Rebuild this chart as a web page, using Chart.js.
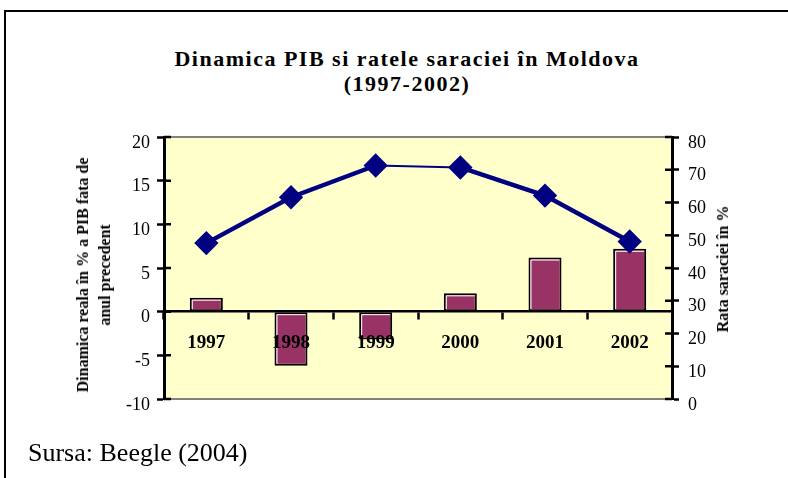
<!DOCTYPE html>
<html>
<head>
<meta charset="utf-8">
<script src="https://cdn.jsdelivr.net/npm/chart.js@4"></script>
<style>
  body { margin: 0; background: #fff; font-family: "Liberation Serif", "Times New Roman", serif; }
  #wrap { position: relative; width: 788px; height: 478px; overflow: hidden; }
  #frame { position: absolute; left: 4px; top: 10px; width: 900px; height: 600px; border-left: 2px solid #000; border-top: 2px solid #000; }
  #title { position: absolute; left: 0; width: 814px; top: 46px; text-align: center; font-weight: bold; font-size: 22px; letter-spacing: 1.5px; line-height: 25px; color: #000; }
  .axisTitle { position: absolute; transform: translate(-50%, -50%) rotate(-90deg); white-space: nowrap; text-align: center; font-weight: bold; font-size: 16px; line-height: 22px; color: #000; }
  #leftTitle { left: 94px; top: 275px; }
  #rightTitle { left: 723px; top: 269px; }
  #source { position: absolute; left: 28px; top: 440px; font-size: 26px; line-height: 26px; color: #000; }
  canvas { position: absolute; left: 0; top: 0; }
</style>
</head>
<body>
<div id="wrap">
  <div id="frame"></div>
  <div id="title">Dinamica PIB si ratele saraciei în Moldova<br>(1997-2002)</div>
  <canvas id="chart" width="788" height="478"></canvas>
  <div id="leftTitle" class="axisTitle">Dinamica reala în % a PIB fata de<br>anul precedent</div>
  <div id="rightTitle" class="axisTitle">Rata saraciei în %</div>
  <div id="source">Sursa: Beegle (2004)</div>
</div>
<script>
// ani
const years = ['1997', '1998', '1999', '2000', '2001', '2002'];
// dinamica reala a PIB, % fata de anul precedent (axa stanga)
const gdpGrowth = [1.6, -6.2, -3.2, 2.1, 6.2, 7.2];
// rata saraciei, % (axa dreapta)
const povertyRate = [47.6, 61.6, 71.3, 70.7, 62.1, 48.1];
// diviziuni axe
const leftTicks = { min: -10, max: 20, step: 5 };
const rightTicks = { min: 0, max: 80, step: 10 };

const serif = '"Liberation Serif", "Times New Roman", serif';

// fundal galben + chenar gri pentru zona graficului
const plotBackground = {
    id: 'plotBackground',
    beforeDraw(chart) {
        const { ctx, chartArea: a } = chart;
        ctx.save();
        ctx.fillStyle = '#FFFFCC';
        ctx.fillRect(a.left, a.top, a.right - a.left, a.bottom - a.top);
        ctx.strokeStyle = '#808080';
        ctx.lineWidth = 2;
        ctx.beginPath();
        ctx.moveTo(a.left, a.top); ctx.lineTo(a.right, a.top);
        ctx.moveTo(a.left, a.bottom); ctx.lineTo(a.right, a.bottom);
        ctx.stroke();
        ctx.restore();
    }
};

// linie alba in interiorul barelor (sus si in stanga), ca la Excel
const barHighlight = {
    id: 'barHighlight',
    afterDatasetDraw(chart, args) {
        if (args.meta.type !== 'bar') return;
        const ctx = chart.ctx;
        ctx.save();
        ctx.strokeStyle = '#fff';
        ctx.lineWidth = 1;
        ctx.beginPath();
        args.meta.data.forEach(bar => {
            const { x, y, base, width } = bar.getProps(['x', 'y', 'base', 'width'], true);
            const top = Math.min(y, base) + 2.5;
            const bottom = Math.max(y, base) - 2;
            const left = x - width / 2 + 2.5;
            const right = x + width / 2 - 2;
            ctx.moveTo(left, bottom);
            ctx.lineTo(left, top);
            ctx.lineTo(right, top);
        });
        ctx.stroke();
        ctx.restore();
    }
};

// jumatatea interioara a diviziunilor pe axele Y (diviziuni "cross")
const innerTicks = {
    id: 'innerTicks',
    afterDraw(chart) {
        const { ctx, chartArea: a } = chart;
        ctx.save();
        ctx.strokeStyle = '#000';
        ctx.lineWidth = 2.5;
        ctx.beginPath();
        [['y', a.left, 7], ['y1', a.right, -7]].forEach(([id, x, len]) => {
            const scale = chart.scales[id];
            scale.ticks.forEach((t, i) => {
                const y = scale.getPixelForTick(i);
                ctx.moveTo(x, y);
                ctx.lineTo(x + len, y);
            });
        });
        ctx.stroke();
        ctx.restore();
    }
};

new Chart(document.getElementById('chart'), {
    type: 'bar',
    data: {
        labels: years,
        datasets: [
            {
                type: 'line',
                label: 'Rata saraciei',
                data: povertyRate,
                yAxisID: 'y1',
                borderColor: '#000080',
                backgroundColor: '#000080',
                borderWidth: 4.5,
                segment: { borderWidth: c => (c.p0DataIndex === 2 ? 2 : 4.5) },
                pointStyle: 'rectRot',
                pointRadius: 9,
                pointHoverRadius: 9,
                tension: 0,
                order: 0
            },
            {
                label: 'Dinamica PIB',
                data: gdpGrowth,
                yAxisID: 'y',
                backgroundColor: '#993366',
                borderColor: '#000',
                borderWidth: 2,
                borderSkipped: false,
                categoryPercentage: 1,
                barPercentage: 0.39,
                order: 1
            }
        ]
    },
    options: {
        responsive: false,
        animation: false,
        layout: { padding: { left: 0, right: 0, top: 137, bottom: 79 } },
        plugins: {
            legend: { display: false },
            tooltip: { enabled: false }
        },
        scales: {
            x: {
                position: { y: 0 },
                grid: { offset: true, drawOnChartArea: false, tickLength: 7, tickWidth: 2.5, color: '#000' },
                border: { color: '#000', width: 2.5, z: 1 },
                ticks: { z: 1, color: '#000', padding: 13, font: { family: serif, size: 19, weight: 'bold' } }
            },
            y: {
                position: 'left',
                min: leftTicks.min,
                max: leftTicks.max,
                afterFit(scale) { scale.width = 164; },
                grid: { drawOnChartArea: false, tickLength: 7, tickWidth: 2.5, color: '#000' },
                border: { color: '#000', width: 3 },
                ticks: { stepSize: leftTicks.step, color: '#000', padding: 7, labelOffset: 6, font: { family: serif, size: 18 } }
            },
            y1: {
                position: 'right',
                min: rightTicks.min,
                max: rightTicks.max,
                afterFit(scale) { scale.width = 116; },
                grid: { drawOnChartArea: false, tickLength: 7, tickWidth: 2.5, color: '#000' },
                border: { color: '#000', width: 3 },
                ticks: { stepSize: rightTicks.step, color: '#000', padding: 9, labelOffset: 6, font: { family: serif, size: 18 } }
            }
        }
    },
    plugins: [plotBackground, barHighlight, innerTicks]
});
</script>
</body>
</html>
